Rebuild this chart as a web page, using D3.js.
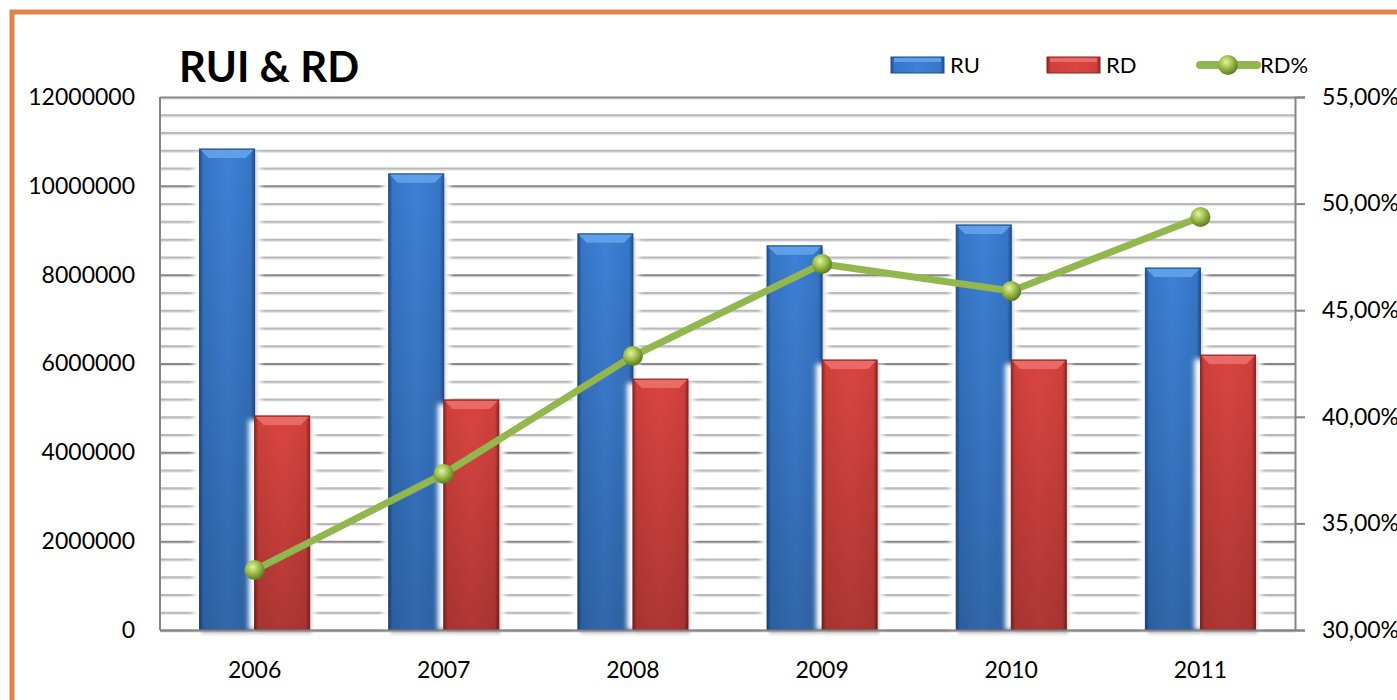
<!DOCTYPE html>
<html>
<head>
<meta charset="utf-8">
<script src="https://cdn.jsdelivr.net/npm/d3@7"></script>
<style>
    body { margin: 0; background: #fff; }
    svg { display: block; font-family: Lato, "Open Sans", sans-serif; }
    .tick text { fill: #000; }
</style>
</head>
<body>
<div id="chart"></div>
<script>
// Data
const years = ['2006', '2007', '2008', '2009', '2010', '2011'];
const ruValues = [10830000, 10270000, 8920000, 8650000, 9120000, 8150000];
const rdValues = [4820000, 5180000, 5650000, 6080000, 6080000, 6190000];
const rdPercent = [0.3281, 0.3732, 0.4285, 0.4717, 0.4590, 0.4937];
const seriesNames = ['RU', 'RD'];
const leftTicks = [0, 2000000, 4000000, 6000000, 8000000, 10000000, 12000000];
const rightTicks = [0.30, 0.35, 0.40, 0.45, 0.50, 0.55];

const width = 1397, height = 700;
const margin = {top: 97, right: 102, bottom: 70, left: 160};

const svg = d3.select('#chart')
              .append('svg')
              .attr('width', width)
              .attr('height', height);

const defs = svg.append('defs');

// Bar gradients (bevelled Excel look)
function barGradient(id, edge, mid, dark) {
    const g = defs.append('linearGradient').attr('id', id)
                  .attr('x1', 0).attr('x2', 1).attr('y1', 0).attr('y2', 0);
    g.append('stop').attr('offset', '0%').attr('stop-color', dark);
    g.append('stop').attr('offset', '7%').attr('stop-color', edge);
    g.append('stop').attr('offset', '50%').attr('stop-color', mid);
    g.append('stop').attr('offset', '93%').attr('stop-color', edge);
    g.append('stop').attr('offset', '100%').attr('stop-color', dark);
}
barGradient('gradRU', '#3676c6', '#3e81d6', '#1f4f8c');
barGradient('gradRD', '#cf403c', '#da4541', '#8e2623');

// darker towards the bottom
const fade = defs.append('linearGradient').attr('id', 'fade')
                 .attr('x1', 0).attr('x2', 0).attr('y1', 0).attr('y2', 1);
fade.append('stop').attr('offset', '0%').attr('stop-color', '#000').attr('stop-opacity', 0);
fade.append('stop').attr('offset', '100%').attr('stop-color', '#000').attr('stop-opacity', 0.2);

const ball = defs.append('radialGradient').attr('id', 'ball')
                 .attr('cx', '40%').attr('cy', '35%').attr('r', '65%');
ball.append('stop').attr('offset', '0%').attr('stop-color', '#e3f2a8');
ball.append('stop').attr('offset', '45%').attr('stop-color', '#a3c450');
ball.append('stop').attr('offset', '100%').attr('stop-color', '#5c7a1f');

const glow = defs.append('filter').attr('id', 'glow')
                 .attr('x', '-40%').attr('y', '-10%').attr('width', '180%').attr('height', '120%');
glow.append('feGaussianBlur').attr('stdDeviation', 2.5);

const shade = defs.append('filter').attr('id', 'shade')
                  .attr('x', '-30%').attr('y', '-30%').attr('width', '160%').attr('height', '160%');
shade.append('feGaussianBlur').attr('stdDeviation', 1.5);

// Scales
const x0 = d3.scaleBand()
             .domain(years)
             .range([margin.left, width - margin.right])
             .paddingInner(0.418)
             .paddingOuter(0.209);
const x1 = d3.scaleBand()
             .domain(seriesNames)
             .range([0, x0.bandwidth()]);
const y = d3.scaleLinear()
            .domain([0, 12000000])
            .range([height - margin.bottom, margin.top]);
const y2 = d3.scaleLinear()
             .domain([0.30, 0.55])
             .range([height - margin.bottom, margin.top]);

// Orange frame
svg.append('rect')
   .attr('x', 12).attr('y', 12)
   .attr('width', width + 20).attr('height', height + 20)
   .attr('fill', 'none')
   .attr('stroke', '#e0834c')
   .attr('stroke-width', 5);

// Gridlines: minor every 400000, major every 2000000
const minor = d3.range(0, 12000001, 400000);
const grid = svg.append('g');
grid.selectAll('line.sh')
    .data(minor)
    .enter()
    .append('line')
    .attr('class', 'sh')
    .attr('x1', margin.left)
    .attr('x2', width - margin.right)
    .attr('y1', d => y(d) + 2)
    .attr('y2', d => y(d) + 2)
    .attr('stroke', '#e4e4e4')
    .attr('stroke-width', 1.5);
grid.selectAll('line.gl')
    .data(minor)
    .enter()
    .append('line')
    .attr('class', 'gl')
    .attr('x1', margin.left)
    .attr('x2', width - margin.right)
    .attr('y1', d => y(d) + 0.5)
    .attr('y2', d => y(d) + 0.5)
    .attr('stroke', d => d % 2000000 === 0 ? '#868686' : '#b8b8b8')
    .attr('stroke-width', 2);

// Bars
const rows = years.map((yr, i) => ({year: yr, RU: ruValues[i], RD: rdValues[i]}));
const groups = svg.append('g')
                  .selectAll('g')
                  .data(rows)
                  .enter()
                  .append('g')
                  .attr('transform', d => `translate(${x0(d.year)}, 0)`);

const bars = groups.selectAll('g.bar')
                   .data(d => seriesNames.map(k => ({key: k, value: d[k]})))
                   .enter()
                   .append('g')
                   .attr('class', 'bar');

// white halo behind each bar
bars.append('rect')
    .attr('x', d => x1(d.key) - 6)
    .attr('y', d => y(d.value) + 4)
    .attr('width', x1.bandwidth() + 12)
    .attr('height', d => y(0) - y(d.value) - 4)
    .attr('fill', '#fff')
    .attr('filter', 'url(#glow)');

// soft shadow under bars
bars.append('rect')
    .attr('x', d => x1(d.key) + 2)
    .attr('y', d => y(d.value) + 3)
    .attr('width', x1.bandwidth())
    .attr('height', d => y(0) - y(d.value) + 1)
    .attr('fill', '#9a9a9a')
    .attr('opacity', 0.5)
    .attr('filter', 'url(#shade)');

bars.append('rect')
    .attr('x', d => x1(d.key))
    .attr('y', d => y(d.value))
    .attr('width', x1.bandwidth())
    .attr('height', d => y(0) - y(d.value))
    .attr('fill', d => `url(#grad${d.key})`)
    .attr('stroke', d => d.key === 'RU' ? '#1f4d88' : '#8a2522')
    .attr('stroke-width', 1);

bars.append('rect')
    .attr('x', d => x1(d.key))
    .attr('y', d => y(d.value))
    .attr('width', x1.bandwidth())
    .attr('height', d => y(0) - y(d.value))
    .attr('fill', 'url(#fade)');

// top bevel
bars.append('path')
    .attr('d', d => {
        const l = x1(d.key), r = l + x1.bandwidth(), t = y(d.value);
        return `M${l + 1},${t + 1}L${r - 1},${t + 1}L${r - 9},${t + 9}L${l + 9},${t + 9}Z`;
    })
    .attr('fill', d => d.key === 'RU' ? '#5e9fe8' : '#ea6a66');

// Axis lines
svg.append('line')
   .attr('x1', margin.left).attr('x2', margin.left)
   .attr('y1', margin.top).attr('y2', y(0))
   .attr('stroke', '#858585').attr('stroke-width', 2);
svg.append('line')
   .attr('x1', margin.left).attr('x2', width - margin.right)
   .attr('y1', y(0) + 0.5).attr('y2', y(0) + 0.5)
   .attr('stroke', '#858585').attr('stroke-width', 2);

// RD% line
const line = d3.line()
               .x((d, i) => x0(years[i]) + x0.bandwidth() / 2)
               .y(d => y2(d));

svg.append('path')
   .datum(rdPercent)
   .attr('d', line)
   .attr('fill', 'none')
   .attr('stroke', '#93b74f')
   .attr('stroke-width', 7);

svg.append('g')
   .selectAll('circle')
   .data(rdPercent)
   .enter()
   .append('circle')
   .attr('cx', (d, i) => x0(years[i]) + x0.bandwidth() / 2)
   .attr('cy', d => y2(d))
   .attr('r', 10)
   .attr('fill', 'url(#ball)');

// Left axis
svg.append('g')
   .attr('transform', `translate(${margin.left}, 0)`)
   .call(d3.axisLeft(y).tickValues(leftTicks).tickFormat(d3.format('d')).tickSize(0).tickPadding(25))
   .call(g => g.select('.domain').remove())
   .selectAll('text')
   .style('font-size', '23px')
   .style('font-family', 'Lato, sans-serif');

// Right axis
const pctFormat = d => d3.format('.2f')(d * 100).replace('.', ',') + '%';
svg.append('g')
   .attr('transform', `translate(${width - margin.right}, 0)`)
   .call(d3.axisRight(y2).tickValues(rightTicks).tickFormat(pctFormat).tickSize(10).tickPadding(17))
   .call(g => g.select('.domain').attr('stroke', '#858585').attr('stroke-width', 2))
   .call(g => g.selectAll('.tick line').attr('stroke', '#858585').attr('stroke-width', 2))
   .selectAll('text')
   .style('font-size', '23px')
   .style('font-family', 'Lato, sans-serif');

// X axis labels
svg.append('g')
   .attr('transform', `translate(0, ${y(0)})`)
   .call(d3.axisBottom(x0).tickSize(0).tickPadding(32))
   .call(g => g.select('.domain').remove())
   .selectAll('text')
   .style('font-size', '23px')
   .style('font-family', 'Lato, sans-serif');

// Title
svg.append('text')
   .attr('x', 179)
   .attr('y', 82)
   .style('font-size', '42px')
   .style('font-weight', 'bold')
   .text('RUI & RD');

// Legend
const legend = svg.append('g');
const legendItems = [
    {name: 'RU', x: 891, fill: 'url(#gradRU)', bevel: '#5e9fe8', stroke: '#1f4d88'},
    {name: 'RD', x: 1047, fill: 'url(#gradRD)', bevel: '#ea6a66', stroke: '#8a2522'}
];
legendItems.forEach(it => {
    legend.append('rect')
          .attr('x', it.x).attr('y', 57)
          .attr('width', 53).attr('height', 16)
          .attr('fill', it.fill)
          .attr('stroke', it.stroke);
    legend.append('rect')
          .attr('x', it.x + 3).attr('y', 58)
          .attr('width', 47).attr('height', 4)
          .attr('fill', it.bevel);
    legend.append('text')
          .attr('x', it.x + 59).attr('y', 73)
          .style('font-size', '22px')
          .text(it.name);
});
legend.append('line')
      .attr('x1', 1200).attr('x2', 1257)
      .attr('y1', 65).attr('y2', 65)
      .attr('stroke', '#93b74f').attr('stroke-width', 8)
      .attr('stroke-linecap', 'round');
legend.append('circle')
      .attr('cx', 1228).attr('cy', 65).attr('r', 10)
      .attr('fill', 'url(#ball)');
legend.append('text')
      .attr('x', 1260).attr('y', 73)
      .style('font-size', '22px')
      .text('RD%');
</script>
</body>
</html>
